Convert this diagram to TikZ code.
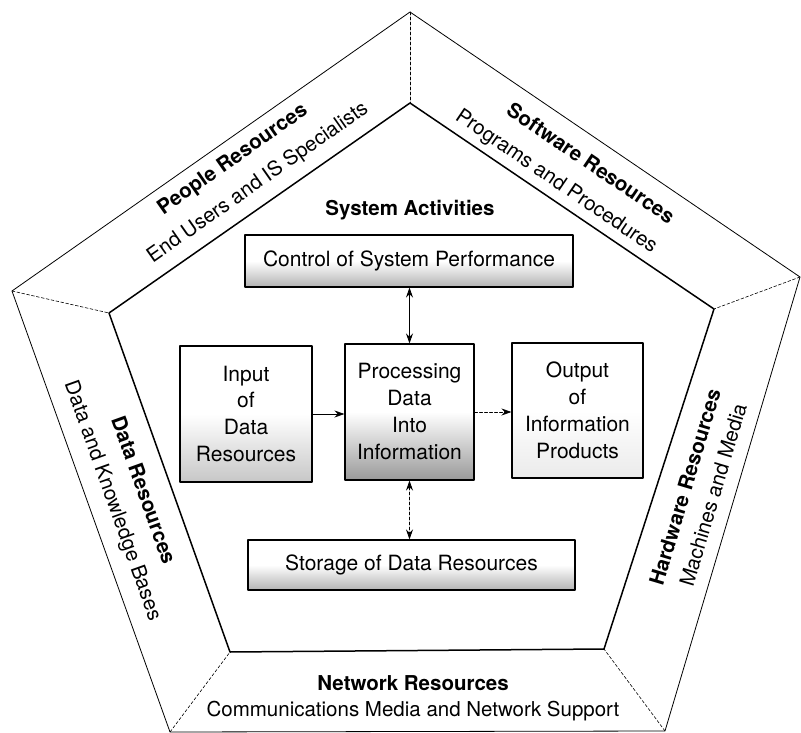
\documentclass[tikz,border=0pt]{standalone}
\usepackage{fontspec}
\setmainfont{TeX Gyre Heros}
\usetikzlibrary{arrows.meta}
\begin{document}
\begin{tikzpicture}[x=1pt,y=-1pt,line join=round,line cap=round,>={Stealth[length=10pt,width=7pt]},font=\fontsize{21}{27}\selectfont]
	\tikzset{actbox/.style={draw,line width=1.1pt,top color=white,bottom color=black!30,middle color=white,align=center,inner sep=0pt},
		bandtext/.style={font=\fontsize{20.5}{24}\selectfont},
		bandhead/.style={font=\fontsize{20.5}{24}\selectfont\bfseries},
		spoke/.style={line width=0.6pt,densely dashed},
		link/.style={line width=0.8pt}}
	\useasboundingbox (0,0) rectangle (801,733);
	% outer and inner pentagon
	\coordinate (o1) at (410,12);\coordinate (o2) at (800,277);\coordinate (o3) at (665,731);
	\coordinate (o4) at (170,732);\coordinate (o5) at (12,291);
	\coordinate (i1) at (410,103);\coordinate (i2) at (714,309);\coordinate (i3) at (604,649);
	\coordinate (i4) at (230,652);\coordinate (i5) at (109,313);
	\draw[line width=0.8pt] (o1)--(o2)--(o3)--(o4)--(o5)--cycle;
	\draw[line width=1.5pt] (i1)--(i2)--(i3)--(i4)--(i5)--cycle;
	\foreach \k in {1,...,5}\draw[spoke] (o\k)--(i\k);
	% resources round the edge
	\node[bandhead,rotate=35] (peoplehd) at (233,160) {People Resources};
	\node[bandtext,rotate=35] (peopletx) at (258,183) {End Users and IS Specialists};
	\node[bandhead,rotate=-34.2] (softhd) at (591,163) {Software Resources};
	\node[bandtext,rotate=-34.2] (softtx) at (556,182) {Programs and Procedures};
	\node[bandhead,rotate=-70.3] (datahd) at (144,490) {Data Resources};
	\node[bandtext,rotate=-70.3] (datatx) at (112,501) {Data and Knowledge Bases};
	\node[bandhead,rotate=73.4] (hardhd) at (685,487) {Hardware Resources};
	\node[bandtext,rotate=73.4] (hardtx) at (713,495) {Machines and Media};
	\node[bandhead] (nethd) at (413,683) {Network Resources};
	\node[bandtext] (nettx) at (413,711) {Communications Media and Network Support};
	% system activities
	\node[bandhead] (sysact) at (410,210) {System Activities};
	\node[actbox,minimum width=328pt,minimum height=52pt] (ctrl) at (409,261) {Control of System Performance};
	\node[actbox,minimum width=132pt,minimum height=136pt,bottom color=black!22,middle color=white] (input) at (246,414) {Input\\of\\Data\\Resources};
	\node[actbox,minimum width=129pt,minimum height=136pt,bottom color=black!40,middle color=white] (proc) at (409.5,412) {Processing\\Data\\Into\\Information};
	\node[actbox,minimum width=131pt,minimum height=135pt,bottom color=black!8,middle color=white] (output) at (577.5,410.5) {Output\\of\\Information\\Products};
	\node[actbox,minimum width=327pt,minimum height=50pt] (store) at (411.5,565) {Storage of Data Resources};
	\draw[link,->] (input.east)--(input.east-|proc.west);
	\draw[link,densely dashed,->] (proc.east)--(proc.east-|output.west);
	\draw[link,<->] (proc.north)--(proc.north|-ctrl.south);
	\draw[link,densely dashed,<->] (proc.south)--(proc.south|-store.north);
\end{tikzpicture}
\end{document}
